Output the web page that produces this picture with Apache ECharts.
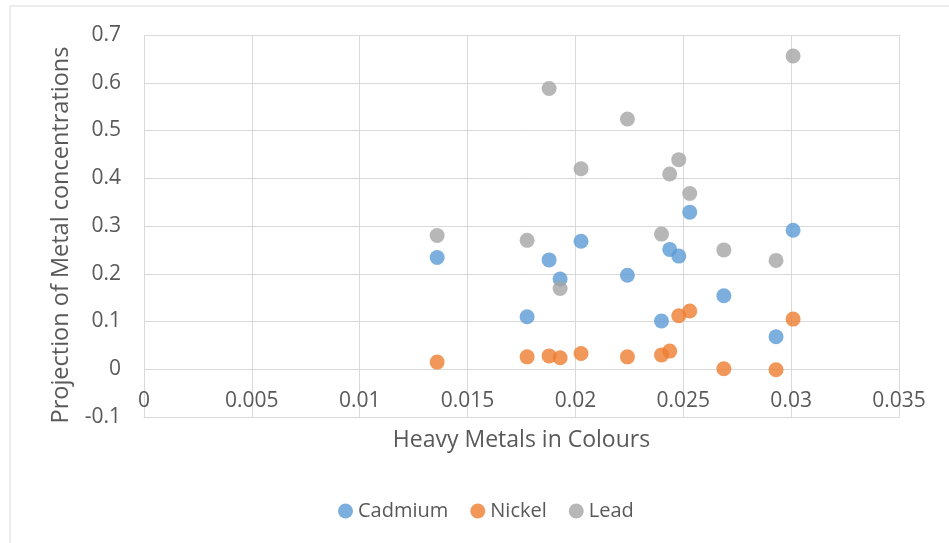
<!DOCTYPE html>
<html>
<head>
<meta charset="utf-8">
<script src="https://cdn.jsdelivr.net/npm/echarts@6/dist/echarts.min.js"></script>
<style>html,body{margin:0;padding:0;background:#fff}#c{width:949px;height:543px}</style>
</head>
<body>
<div id="c"></div>
<script>
const xValues = [0.01359, 0.01776, 0.01878, 0.01929, 0.02026, 0.02241, 0.02399, 0.02437, 0.02479, 0.02530, 0.02688, 0.02930, 0.03009];
const cadmium = [0.234, 0.110, 0.229, 0.189, 0.268, 0.197, 0.101, 0.251, 0.237, 0.329, 0.154, 0.068, 0.291];
const nickel  = [0.015, 0.026, 0.028, 0.024, 0.033, 0.026, 0.030, 0.038, 0.112, 0.122, 0.001, -0.001, 0.105];
const lead    = [0.280, 0.270, 0.588, 0.169, 0.420, 0.524, 0.283, 0.409, 0.439, 0.368, 0.250, 0.228, 0.656];
const seriesNames = ['Cadmium', 'Nickel', 'Lead'];
const colors = ['#5B9BD5', '#ED7D31', '#A5A5A5'];

const font = 'Open Sans';
const txt = '#595959';
const grid = '#D9D9D9';
const pairs = arr => xValues.map((x, i) => [x, arr[i]]);
const chart = echarts.init(document.getElementById('c'));
chart.setOption({
  animation: false,
  color: colors,
  textStyle: { fontFamily: font },
  graphic: [{ type: 'rect', shape: { x: 10, y: 6, width: 1000, height: 600 }, style: { fill: 'none', stroke: grid, lineWidth: 1 } }],
  grid: { left: 144, right: 50, top: 35, bottom: 126 },
  xAxis: {
    type: 'value', min: 0, max: 0.035, interval: 0.005,
    name: 'Heavy Metals in Colours', nameLocation: 'middle', nameGap: 12,
    nameTextStyle: { fontSize: 23, color: txt, fontFamily: font },
    axisLine: { show: true, onZero: false, lineStyle: { color: grid } },
    axisTick: { show: false },
    axisLabel: { fontSize: 21, color: txt, margin: -26, fontFamily: font },
    splitLine: { show: true, lineStyle: { color: grid } }
  },
  yAxis: {
    type: 'value', min: -0.1, max: 0.7, interval: 0.1,
    name: 'Projection of Metal concentrations', nameLocation: 'middle', nameGap: 70,
    nameTextStyle: { fontSize: 23.5, color: txt, fontFamily: font, padding: [0, 18, 0, 0] },
    axisLine: { show: false },
    axisTick: { show: false },
    axisLabel: { fontSize: 21, color: txt, margin: 23, fontFamily: font, formatter: v => String(Math.round(v * 10) / 10) },
    splitLine: { show: true, lineStyle: { color: grid } }
  },
  legend: {
    bottom: 17, left: 333, icon: 'circle', itemWidth: 15, itemHeight: 15, itemGap: 22,
    textStyle: { fontSize: 20, color: txt, fontFamily: font },
    data: seriesNames
  },
  series: [
    { name: seriesNames[0], type: 'scatter', symbolSize: 15, data: pairs(cadmium) },
    { name: seriesNames[1], type: 'scatter', symbolSize: 15, data: pairs(nickel) },
    { name: seriesNames[2], type: 'scatter', symbolSize: 15, data: pairs(lead) }
  ]
});
</script>
</body>
</html>
